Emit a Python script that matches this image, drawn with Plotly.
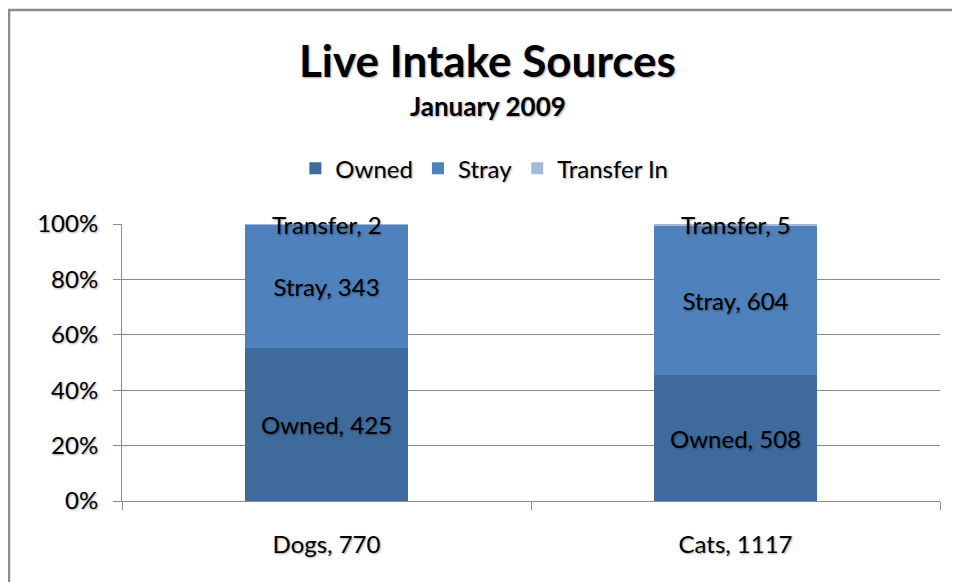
import plotly.graph_objects as go

# Dados
animais = ['Dogs', 'Cats']
owned = [425, 508]
stray = [343, 604]
transfer = [2, 5]
totais = [o + s + t for o, s, t in zip(owned, stray, transfer)]
categorias = [f'{a}, {t}' for a, t in zip(animais, totais)]
ticks_y = [0, 20, 40, 60, 80, 100]

cor_owned = '#3F6A9C'
cor_stray = '#4F81BD'
cor_transfer = '#A7B9DA'
fonte = 'Lato, Open Sans, sans-serif'
sombra = '1px 1px 2px rgba(0,0,0,0.35)'

fig = go.Figure()

fig.add_trace(go.Bar(
    x=categorias, y=owned, name='Owned',
    marker=dict(color=cor_owned, line=dict(width=0)),
    text=[f'Owned, {v}' for v in owned],
    textposition='inside', insidetextanchor='middle',
    textangle=0, constraintext='none',
    textfont=dict(color='black', size=24, family=fonte, shadow=sombra),
))
fig.add_trace(go.Bar(
    x=categorias, y=stray, name='Stray',
    marker=dict(color=cor_stray, line=dict(width=0)),
    text=[f'Stray, {v}' for v in stray],
    textposition='inside', insidetextanchor='middle',
    textangle=0, constraintext='none',
    textfont=dict(color='black', size=24, family=fonte, shadow=sombra),
))
fig.add_trace(go.Bar(
    x=categorias, y=transfer, name='Transfer In',
    marker=dict(color=cor_transfer, line=dict(width=0)),
))

# Rótulos de transferência no topo
for cat, v in zip(categorias, transfer):
    fig.add_annotation(
        x=cat, y=100, xref='x', yref='y', text=f'Transfer, {v}',
        showarrow=False, yanchor='middle',
        font=dict(color='black', size=24, family=fonte, shadow=sombra),
    )

# Título e subtítulo
fig.add_annotation(
    x=0.447, y=1.592, xref='paper', yref='paper', text='<b>Live Intake Sources</b>',
    showarrow=False, yanchor='middle',
    font=dict(color='black', size=44, family=fonte, shadow=sombra),
)
fig.add_annotation(
    x=0.447, y=1.427, xref='paper', yref='paper', text='<b>January 2009</b>',
    showarrow=False, yanchor='middle',
    font=dict(color='black', size=26, family=fonte, shadow=sombra),
)

# Moldura do gráfico
fig.add_shape(
    type='rect', xref='paper', yref='paper',
    x0=-0.1381, x1=1.2, y0=-0.4, y1=1.7726,
    line=dict(color='#8C8C8C', width=2.5), layer='below',
)

fig.update_layout(
    barmode='stack', barnorm='percent', bargap=0.6,
    width=960, height=582,
    margin=dict(l=114, r=28, t=216, b=89),
    paper_bgcolor='white', plot_bgcolor='white',
    font=dict(family=fonte, size=24, color='black'),
    showlegend=True,
    legend=dict(
        orientation='h', x=0.443, xanchor='center', y=1.2, yanchor='middle',
        traceorder='normal',
        font=dict(size=24, family=fonte, shadow=sombra),
    ),
    yaxis=dict(
        range=[0, 100], tickmode='array', tickvals=ticks_y,
        ticktext=[f'{v}%' for v in ticks_y],
        showgrid=True, gridcolor='#8C8C8C', gridwidth=1,
        showline=True, linecolor='#8C8C8C', linewidth=1,
        ticks='outside', ticklen=8, tickcolor='#8C8C8C',
        ticklabelstandoff=10,
        tickfont=dict(size=24, shadow=sombra), zeroline=False,
    ),
    xaxis=dict(
        showline=True, linecolor='#8C8C8C', linewidth=1,
        ticks='outside', tickson='boundaries', ticklen=8, tickcolor='#8C8C8C',
        ticklabelstandoff=22,
        tickfont=dict(size=24, shadow=sombra),
    ),
)

fig.write_html('out.html')
